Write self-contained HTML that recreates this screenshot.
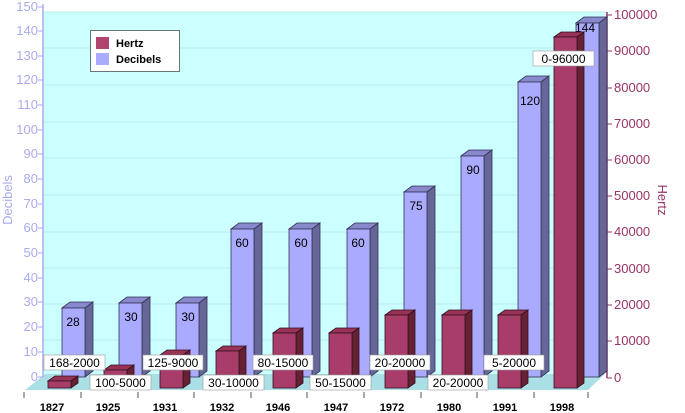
<!DOCTYPE html>
<html><head><meta charset="utf-8"><style>
html,body{margin:0;padding:0;background:#fff;}
svg{display:block;font-family:"Liberation Sans",Arial,sans-serif;}
</style></head><body>
<svg width="685" height="413" viewBox="0 0 685 413" xmlns="http://www.w3.org/2000/svg">
<!-- wall -->
<rect x="43" y="12" width="564" height="362" fill="#ccffff"/>
<g stroke="#b8eeee" stroke-width="1">
<line x1="43" y1="12" x2="607" y2="12"/>
<line x1="43" y1="48" x2="607" y2="48"/>
<line x1="43" y1="85" x2="607" y2="85"/>
<line x1="43" y1="122" x2="607" y2="122"/>
<line x1="43" y1="158" x2="607" y2="158"/>
<line x1="43" y1="195" x2="607" y2="195"/>
<line x1="43" y1="232" x2="607" y2="232"/>
<line x1="43" y1="268" x2="607" y2="268"/>
<line x1="43" y1="304" x2="607" y2="304"/>
<line x1="43" y1="340" x2="607" y2="340"/>
</g>
<!-- floor -->
<polygon points="45,374 605,374 588,390 25,390" fill="#aadfe6"/>
<!-- left axis -->
<line x1="43" y1="4" x2="43" y2="377" stroke="#aaaaee" stroke-width="1.5"/>
<g fill="#aaaaee" font-size="13" text-anchor="end">
<text x="38" y="11">150</text><text x="38" y="35">140</text><text x="38" y="60">130</text><text x="38" y="84">120</text><text x="38" y="109">110</text><text x="38" y="134">100</text><text x="38" y="158">90</text><text x="38" y="183">80</text><text x="38" y="208">70</text><text x="38" y="232">60</text><text x="38" y="257">50</text><text x="38" y="282">40</text><text x="38" y="306">30</text><text x="38" y="331">20</text><text x="38" y="356">10</text><text x="38" y="381">0</text>
</g>
<g stroke="#aaaaee"><line x1="38" y1="7" x2="43" y2="7"/><line x1="38" y1="31" x2="43" y2="31"/><line x1="38" y1="56" x2="43" y2="56"/><line x1="38" y1="80" x2="43" y2="80"/><line x1="38" y1="105" x2="43" y2="105"/><line x1="38" y1="130" x2="43" y2="130"/><line x1="38" y1="154" x2="43" y2="154"/><line x1="38" y1="179" x2="43" y2="179"/><line x1="38" y1="204" x2="43" y2="204"/><line x1="38" y1="228" x2="43" y2="228"/><line x1="38" y1="253" x2="43" y2="253"/><line x1="38" y1="278" x2="43" y2="278"/><line x1="38" y1="302" x2="43" y2="302"/><line x1="38" y1="327" x2="43" y2="327"/><line x1="38" y1="352" x2="43" y2="352"/><line x1="38" y1="377" x2="43" y2="377"/></g>
<text transform="translate(12,200) rotate(-90)" text-anchor="middle" fill="#aaaaee" font-size="13">Decibels</text>
<!-- right axis -->
<line x1="607" y1="12" x2="607" y2="378" stroke="#993366" stroke-width="1.5"/>
<g fill="#993366" font-size="13">
<text x="614" y="19">100000</text><text x="614" y="55">90000</text><text x="614" y="92">80000</text><text x="614" y="128">70000</text><text x="614" y="164">60000</text><text x="614" y="200">50000</text><text x="614" y="236">40000</text><text x="614" y="273">30000</text><text x="614" y="309">20000</text><text x="614" y="345">10000</text><text x="614" y="382">0</text>
</g>
<g stroke="#993366"><line x1="607" y1="15" x2="612" y2="15"/><line x1="607" y1="51" x2="612" y2="51"/><line x1="607" y1="88" x2="612" y2="88"/><line x1="607" y1="124" x2="612" y2="124"/><line x1="607" y1="160" x2="612" y2="160"/><line x1="607" y1="196" x2="612" y2="196"/><line x1="607" y1="232" x2="612" y2="232"/><line x1="607" y1="269" x2="612" y2="269"/><line x1="607" y1="305" x2="612" y2="305"/><line x1="607" y1="341" x2="612" y2="341"/><line x1="607" y1="378" x2="612" y2="378"/></g>
<text transform="translate(658,200) rotate(90)" text-anchor="middle" fill="#993366" font-size="13">Hertz</text>
<!-- x axis ticks -->
<line x1="25" y1="391" x2="588" y2="391" stroke="#fff"/>
<g stroke="#555"><line x1="24" y1="392" x2="24" y2="398"/><line x1="81" y1="392" x2="81" y2="398"/><line x1="138" y1="392" x2="138" y2="398"/><line x1="194" y1="392" x2="194" y2="398"/><line x1="251" y1="392" x2="251" y2="398"/><line x1="307" y1="392" x2="307" y2="398"/><line x1="364" y1="392" x2="364" y2="398"/><line x1="421" y1="392" x2="421" y2="398"/><line x1="477" y1="392" x2="477" y2="398"/><line x1="534" y1="392" x2="534" y2="398"/><line x1="588" y1="392" x2="588" y2="398"/></g>
<g font-size="11" font-weight="bold" text-anchor="middle" fill="#000">
<text x="52" y="411">1827</text><text x="108" y="411">1925</text><text x="165" y="411">1931</text><text x="222" y="411">1932</text><text x="278" y="411">1946</text><text x="336" y="411">1947</text><text x="392" y="411">1972</text><text x="449" y="411">1980</text><text x="505" y="411">1991</text><text x="562" y="411">1998</text>
</g>
<!-- decibel bars -->
<g stroke="#333355" stroke-width="0.8">
<g><polygon points="62,308 70,302 93,302 85,308" fill="#8888cc"/><polygon points="85,308 93,302 93,371 85,377" fill="#666699"/><rect x="62" y="308" width="23" height="69" fill="#aaaaff"/></g>
<g><polygon points="119,303 127,297 150,297 142,303" fill="#8888cc"/><polygon points="142,303 150,297 150,371 142,377" fill="#666699"/><rect x="119" y="303" width="23" height="74" fill="#aaaaff"/></g>
<g><polygon points="176,303 184,297 207,297 199,303" fill="#8888cc"/><polygon points="199,303 207,297 207,371 199,377" fill="#666699"/><rect x="176" y="303" width="23" height="74" fill="#aaaaff"/></g>
<g><polygon points="231,229 239,223 262,223 254,229" fill="#8888cc"/><polygon points="254,229 262,223 262,371 254,377" fill="#666699"/><rect x="231" y="229" width="23" height="148" fill="#aaaaff"/></g>
<g><polygon points="289,229 297,223 320,223 312,229" fill="#8888cc"/><polygon points="312,229 320,223 320,371 312,377" fill="#666699"/><rect x="289" y="229" width="23" height="148" fill="#aaaaff"/></g>
<g><polygon points="347,229 355,223 378,223 370,229" fill="#8888cc"/><polygon points="370,229 378,223 378,371 370,377" fill="#666699"/><rect x="347" y="229" width="23" height="148" fill="#aaaaff"/></g>
<g><polygon points="404,192 412,186 435,186 427,192" fill="#8888cc"/><polygon points="427,192 435,186 435,371 427,377" fill="#666699"/><rect x="404" y="192" width="23" height="185" fill="#aaaaff"/></g>
<g><polygon points="461,156 469,150 492,150 484,156" fill="#8888cc"/><polygon points="484,156 492,150 492,371 484,377" fill="#666699"/><rect x="461" y="156" width="23" height="221" fill="#aaaaff"/></g>
<g><polygon points="518,82 526,76 549,76 541,82" fill="#8888cc"/><polygon points="541,82 549,76 549,371 541,377" fill="#666699"/><rect x="518" y="82" width="23" height="295" fill="#aaaaff"/></g>
<g><polygon points="576,23 584,17 607,17 599,23" fill="#8888cc"/><polygon points="599,23 607,17 607,371 599,377" fill="#666699"/><rect x="576" y="23" width="23" height="354" fill="#aaaaff"/></g>
</g>
<g font-size="12" text-anchor="middle" fill="#000">
<text x="73" y="326">28</text><text x="131" y="321">30</text><text x="188" y="321">30</text><text x="242" y="247">60</text><text x="301" y="247">60</text><text x="358" y="247">60</text><text x="416" y="210">75</text><text x="473" y="174">90</text><text x="530" y="105">120</text><text x="585" y="32">144</text>
</g>
<!-- hertz bars -->
<g stroke="#331122" stroke-width="0.8">
<g><polygon points="48,381 55,376 78,376 71,381" fill="#993355"/><polygon points="71,381 78,376 78,383 71,388" fill="#662233"/><rect x="48" y="381" width="23" height="7" fill="#a83d6a"/></g>
<g><polygon points="104,370 111,365 134,365 127,370" fill="#993355"/><polygon points="127,370 134,365 134,383 127,388" fill="#662233"/><rect x="104" y="370" width="23" height="18" fill="#a83d6a"/></g>
<g><polygon points="160,355 167,350 190,350 183,355" fill="#993355"/><polygon points="183,355 190,350 190,383 183,388" fill="#662233"/><rect x="160" y="355" width="23" height="33" fill="#a83d6a"/></g>
<g><polygon points="216,351 223,346 246,346 239,351" fill="#993355"/><polygon points="239,351 246,346 246,383 239,388" fill="#662233"/><rect x="216" y="351" width="23" height="37" fill="#a83d6a"/></g>
<g><polygon points="273,333 280,328 303,328 296,333" fill="#993355"/><polygon points="296,333 303,328 303,383 296,388" fill="#662233"/><rect x="273" y="333" width="23" height="55" fill="#a83d6a"/></g>
<g><polygon points="329,333 336,328 359,328 352,333" fill="#993355"/><polygon points="352,333 359,328 359,383 352,388" fill="#662233"/><rect x="329" y="333" width="23" height="55" fill="#a83d6a"/></g>
<g><polygon points="385,315 392,310 415,310 408,315" fill="#993355"/><polygon points="408,315 415,310 415,383 408,388" fill="#662233"/><rect x="385" y="315" width="23" height="73" fill="#a83d6a"/></g>
<g><polygon points="442,315 449,310 472,310 465,315" fill="#993355"/><polygon points="465,315 472,310 472,383 465,388" fill="#662233"/><rect x="442" y="315" width="23" height="73" fill="#a83d6a"/></g>
<g><polygon points="498,315 505,310 528,310 521,315" fill="#993355"/><polygon points="521,315 528,310 528,383 521,388" fill="#662233"/><rect x="498" y="315" width="23" height="73" fill="#a83d6a"/></g>
<g><polygon points="554,37 561,32 584,32 577,37" fill="#993355"/><polygon points="577,37 584,32 584,383 577,388" fill="#662233"/><rect x="554" y="37" width="23" height="351" fill="#a83d6a"/></g>
</g>
<!-- hertz labels -->
<g font-size="12" text-anchor="middle" fill="#000">
<rect x="44" y="355" width="61" height="15" fill="#fff" stroke="#999" stroke-width="0.6"/><text x="74.5" y="367">168-2000</text>
<rect x="90" y="375" width="61" height="15" fill="#fff" stroke="#999" stroke-width="0.6"/><text x="120.5" y="387">100-5000</text>
<rect x="143" y="355" width="60" height="15" fill="#fff" stroke="#999" stroke-width="0.6"/><text x="173" y="367">125-9000</text>
<rect x="203" y="375" width="61" height="15" fill="#fff" stroke="#999" stroke-width="0.6"/><text x="233.5" y="387">30-10000</text>
<rect x="253" y="355" width="60" height="15" fill="#fff" stroke="#999" stroke-width="0.6"/><text x="283" y="367">80-15000</text>
<rect x="310" y="375" width="61" height="15" fill="#fff" stroke="#999" stroke-width="0.6"/><text x="340.5" y="387">50-15000</text>
<rect x="370" y="355" width="60" height="15" fill="#fff" stroke="#999" stroke-width="0.6"/><text x="400" y="367">20-20000</text>
<rect x="428" y="375" width="60" height="15" fill="#fff" stroke="#999" stroke-width="0.6"/><text x="458" y="387">20-20000</text>
<rect x="484" y="355" width="60" height="15" fill="#fff" stroke="#999" stroke-width="0.6"/><text x="514" y="367">5-20000</text>
<rect x="533" y="51" width="61" height="15" fill="#fff" stroke="#999" stroke-width="0.6"/><text x="563.5" y="63">0-96000</text>
</g>
<!-- legend -->
<rect x="90.5" y="30.5" width="89" height="41" fill="#fff" stroke="#667777" stroke-width="1"/>
<rect x="96" y="37" width="13" height="12" fill="#b0446f"/>
<rect x="96" y="53" width="13" height="12" fill="#aaaaff"/>
<g font-size="11" font-weight="bold" fill="#000"><text x="116" y="47">Hertz</text><text x="116" y="63">Decibels</text></g>
</svg>
</body></html>
